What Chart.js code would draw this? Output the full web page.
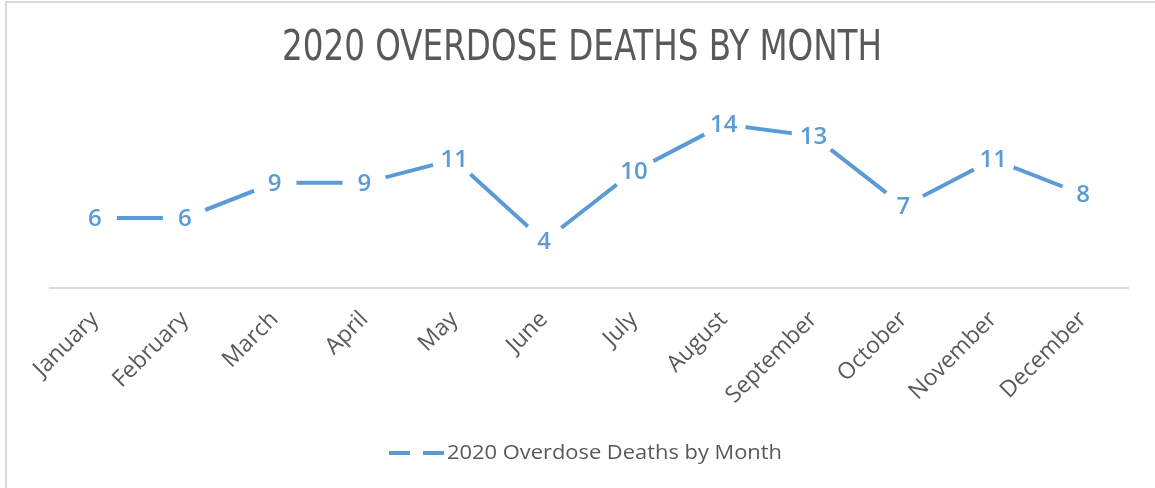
<!DOCTYPE html>
<html>
<head>
<meta charset="utf-8">
<script src="https://cdn.jsdelivr.net/npm/chart.js@4"></script>
<style>
  html, body { margin: 0; padding: 0; background: #fff; }
  #wrap { position: relative; width: 1155px; height: 488px; }
</style>
</head>
<body>
<div id="wrap"><canvas id="chart" width="1155" height="488"></canvas></div>
<script>
const months = ['January', 'February', 'March', 'April', 'May', 'June',
  'July', 'August', 'September', 'October', 'November', 'December'];
const deaths = [6, 6, 9, 9, 11, 4, 10, 14, 13, 7, 11, 8];
const titleText = '2020 OVERDOSE DEATHS BY MONTH';
const seriesName = '2020 Overdose Deaths by Month';

const blue = '#5b9bd5';
const gray = '#595959';

// frame, title, point labels and legend are drawn by hand
const decorations = {
  id: 'decorations',
  beforeDraw(chart) {
    const ctx = chart.ctx;
    ctx.save();
    ctx.fillStyle = '#fff';
    ctx.fillRect(0, 0, chart.width, chart.height);
    ctx.strokeStyle = '#d9d9d9';
    ctx.lineWidth = 2;
    ctx.beginPath();
    ctx.moveTo(6, 488);
    ctx.lineTo(6, 2);
    ctx.lineTo(1155, 2);
    ctx.stroke();

    // title, squeezed to the reference width
    ctx.font = '42px "Liberation Sans Narrow", "DejaVu Sans Condensed", sans-serif';
    ctx.fillStyle = gray;
    ctx.textBaseline = 'alphabetic';
    const w = ctx.measureText(titleText).width;
    const sx = 600 / w;
    ctx.translate(582, 60);
    ctx.scale(sx, 1);
    ctx.textAlign = 'center';
    ctx.fillText(titleText, 0, 0);
    ctx.restore();
  },
  afterDatasetsDraw(chart) {
    const ctx = chart.ctx;
    const meta = chart.getDatasetMeta(0);
    const values = chart.data.datasets[0].data;
    ctx.save();
    meta.data.forEach((pt, i) => {
      ctx.fillStyle = '#fff';
      ctx.beginPath();
      ctx.arc(pt.x, pt.y, 22, 0, Math.PI * 2);
      ctx.fill();
      ctx.fillStyle = blue;
      ctx.font = '600 24px "Open Sans", sans-serif';
      ctx.textAlign = 'center';
      ctx.textBaseline = 'middle';
      ctx.fillText(String(values[i]), pt.x, pt.y + 1);
    });

    // legend
    ctx.strokeStyle = blue;
    ctx.lineWidth = 4;
    ctx.beginPath();
    ctx.moveTo(389, 453); ctx.lineTo(410, 453);
    ctx.moveTo(423, 453); ctx.lineTo(444, 453);
    ctx.stroke();
    ctx.font = '20px "Open Sans", sans-serif';
    ctx.fillStyle = gray;
    ctx.textAlign = 'left';
    ctx.textBaseline = 'middle';
    const lw = ctx.measureText(seriesName).width;
    ctx.translate(447, 453);
    ctx.scale(335 / lw, 1);
    ctx.fillText(seriesName, 0, 0);
    ctx.restore();
  }
};

new Chart(document.getElementById('chart'), {
  type: 'line',
  data: {
    labels: months,
    datasets: [{
      label: seriesName,
      data: deaths,
      borderColor: blue,
      backgroundColor: blue,
      borderWidth: 4,
      pointRadius: 0,
      tension: 0
    }]
  },
  options: {
    responsive: false,
    animation: false,
    layout: { padding: { top: 101, left: 50, right: 27, bottom: 50 } },
    plugins: {
      legend: { display: false },
      title: { display: false },
      tooltip: { enabled: false }
    },
    scales: {
      x: {
        offset: true,
        grid: { display: false, drawTicks: false },
        border: { color: '#d9d9d9', width: 2 },
        ticks: {
          color: gray,
          font: { family: '"Open Sans", sans-serif', size: 23 },
          minRotation: 45,
          maxRotation: 45,
          padding: 18,
          autoSkip: false
        },
        afterFit(scale) { scale.height = 150; }
      },
      y: {
        display: false,
        min: 0,
        max: 16
      }
    }
  },
  plugins: [decorations]
});
</script>
</body>
</html>
